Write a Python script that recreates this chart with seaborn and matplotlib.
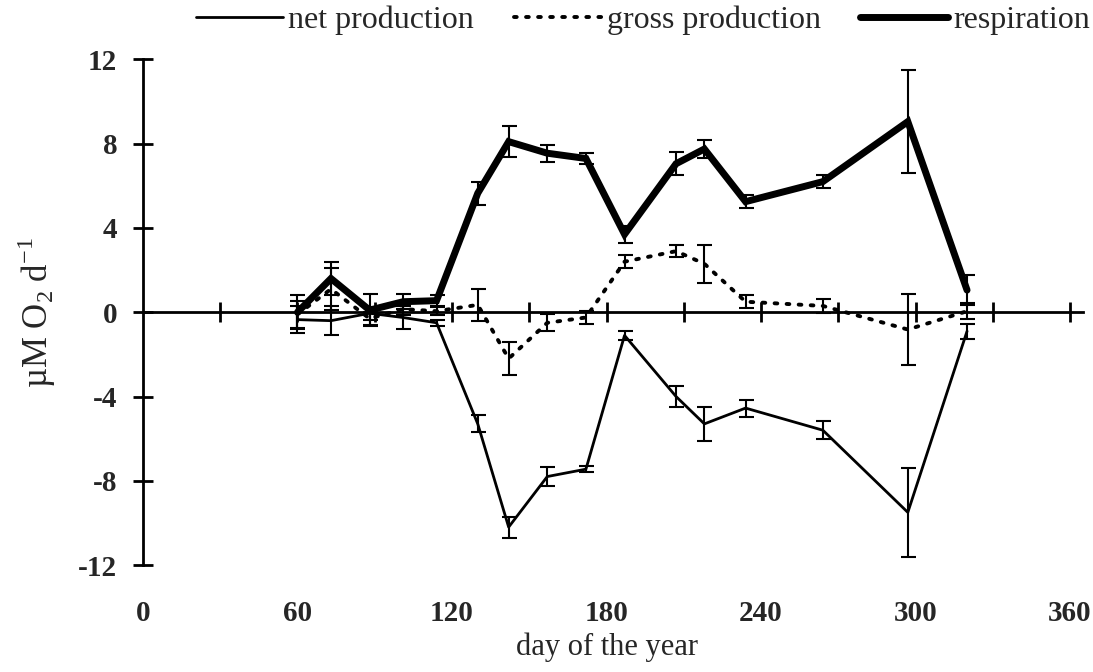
import matplotlib
matplotlib.use("Agg")
import matplotlib.pyplot as plt
import numpy as np
import pandas as pd
import seaborn as sns

# Sampling days (day of the year)
days = [60, 73, 88, 101, 114, 130, 142, 157, 172, 187, 207, 218, 234, 264, 297, 320]

# Oxygen rates (µM O2 per day) and their standard errors
net_production = [-0.35, -0.4, -0.05, -0.25, -0.5, -5.3, -10.2, -7.8, -7.45, -1.1,
                  -4.0, -5.3, -4.55, -5.6, -9.5, -0.9]
net_err = [0.65, 0.7, 0.3, 0.55, 0.15, 0.4, 0.5, 0.45, 0.15, 0.2,
           0.5, 0.8, 0.4, 0.42, 2.1, 0.35]

gross_production = [-0.1, 1.1, -0.3, 0.15, 0.05, 0.35, -2.2, -0.5, -0.25, 2.4,
                    2.9, 2.3, 0.5, 0.3, -0.82, 0.05]
gross_err = [0.65, 1.0, 0.3, 0.3, 0.2, 0.75, 0.8, 0.4, 0.3, 0.3,
             0.3, 0.9, 0.3, 0.35, 1.67, 0.38]

respiration = [0.0, 1.6, 0.1, 0.5, 0.55, 5.65, 8.1, 7.55, 7.3, 3.7,
               7.05, 7.75, 5.25, 6.2, 9.05, 1.05]
resp_err = [0.8, 0.8, 0.75, 0.35, 0.25, 0.55, 0.75, 0.4, 0.25, 0.4,
            0.55, 0.45, 0.3, 0.3, 2.45, 0.7]

x_ticks = [0, 60, 120, 180, 240, 300, 360]
y_ticks = [-12, -8, -4, 0, 4, 8, 12]

series = {
    "net production": (net_production, net_err),
    "gross production": (gross_production, gross_err),
    "respiration": (respiration, resp_err),
}
styles = {
    "net production": dict(linewidth=2.0, linestyle="-"),
    "gross production": dict(linewidth=2.8, linestyle=(0, (0.7, 2.4)),
                             dash_capstyle="round"),
    "respiration": dict(linewidth=5.0, linestyle="-", solid_joinstyle="miter"),
}

sns.set_theme(style="white")
plt.rcParams["font.family"] = ["Liberation Serif", "DejaVu Serif"]
plt.rcParams["mathtext.fontset"] = "custom"
plt.rcParams["mathtext.rm"] = "Liberation Serif"

fig = plt.figure(figsize=(10.93, 6.72), dpi=100)
ax = fig.add_axes([0.1308, 0.1592, 0.8600, 0.7523])

handles = []
for name, (vals, errs) in series.items():
    df = pd.DataFrame({"day": days, "value": vals})
    sns.lineplot(data=df, x="day", y="value", ax=ax, color="black",
                 legend=False, **styles[name])
    handles.append(ax.lines[-1])
    ax.errorbar(days, vals, yerr=errs, fmt="none", ecolor="black",
                elinewidth=1.5, capsize=5.4, capthick=1.5, zorder=3)

ax.set_xlim(0, 365)
ax.set_ylim(-12, 12)

# Horizontal axis drawn through zero with a tick every 30 days
for side in ("top", "right"):
    ax.spines[side].set_visible(False)
ax.spines["bottom"].set_position(("data", 0))
ax.spines["bottom"].set_linewidth(2.0)
ax.spines["left"].set_linewidth(2.0)
ax.spines["bottom"].set_color("black")
ax.spines["left"].set_color("black")
ax.set_xticks(np.arange(30, 361, 30))
ax.set_xticklabels([])
ax.tick_params(axis="x", direction="inout", length=14, width=2.0, color="black",
               bottom=True)

ax.set_yticks(y_ticks)
ax.set_yticklabels([str(v) for v in y_ticks])
ax.tick_params(axis="y", direction="inout", length=15, width=2.0, color="black",
               left=True, pad=11, labelsize=21)
for lab in ax.get_yticklabels():
    lab.set_fontweight("bold")

# Day labels sit along the bottom edge of the plot area
sec = ax.secondary_xaxis(0.0)
sec.set_xticks(x_ticks)
sec.set_xticklabels([str(v) for v in x_ticks])
sec.tick_params(axis="x", length=0, pad=25, labelsize=21)
sec.spines["bottom"].set_visible(False)
for lab in sec.get_xticklabels():
    lab.set_fontweight("bold")

ax.set_xlabel("day of the year", fontsize=22)
ax.xaxis.set_label_coords(0.494, -0.134)
ax.set_ylabel(r"µM O$_\mathregular{2}$ d$^\mathregular{-1}$", fontsize=25)
ax.yaxis.set_label_coords(-0.090, 0.5)

ax.legend(handles, list(series.keys()), ncol=3, frameon=False, fontsize=23,
          loc="center", bbox_to_anchor=(0.588, 1 - 20 / 672),
          bbox_transform=fig.transFigure, handlelength=2.75,
          handletextpad=0.15, columnspacing=1.25, borderaxespad=0)

fig.savefig("out.png", dpi=100, facecolor="white")
